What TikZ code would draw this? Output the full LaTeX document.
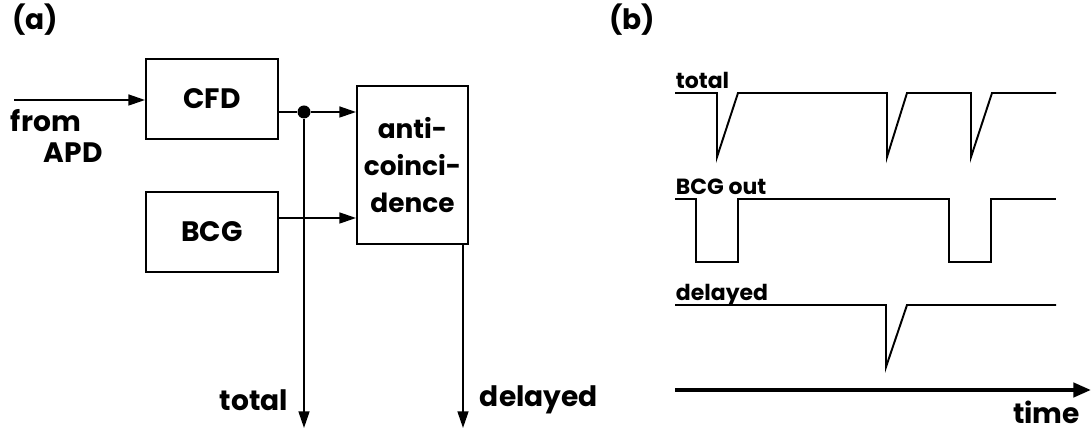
\documentclass[tikz,border=0pt]{standalone}
\usepackage{fontspec}
\setmainfont{Poppins}
\usetikzlibrary{arrows.meta}
\begin{document}
\begin{tikzpicture}[x=0.02cm,y=-0.02cm,
  line width=1.1pt,
  box/.style={draw,line width=1.1pt,inner sep=0pt,font=\fontsize{16}{22}\selectfont\bfseries},
  big/.style={font=\fontsize{16}{22}\selectfont\bfseries,inner sep=0pt},
  small/.style={font=\fontsize{12.5}{14}\selectfont\bfseries,inner sep=0pt},
  arr/.style={-{Triangle[length=9.5pt,width=6.2pt]}},
  wave/.style={line width=1.1pt,line join=miter}]
\useasboundingbox (0,0) rectangle (1091,431);
% (a)
\node[big] (la) at (35,20) {(a)};
\node[box,minimum width=2.64cm,minimum height=1.6cm] (cfd) at (212,99) {CFD};
\node[box,minimum width=2.64cm,minimum height=1.6cm] (bcg) at (212,232) {BCG};
\node[box,minimum width=2.22cm,minimum height=3.16cm,align=center,
      font=\fontsize{15}{21}\selectfont\bfseries] (anti) at (412.5,165) {anti-\\coinci-\\dence};
\coordinate (apd) at (14,100);
\node[big,anchor=west] (from) at (10,121) {from};
\node[big,anchor=west] (apdl) at (43,153) {APD};
\draw[arr] (apd) -- (apd -| cfd.west);
\node[circle,fill,inner sep=0pt,minimum size=0.26cm] (dot) at (304,112) {};
\draw (cfd.east |- dot) -- (dot);
\draw[arr] (dot) -- (anti.west |- dot);
\coordinate (bcgo) at (278,218);
\draw[arr] (bcgo) -- (anti.west |- bcgo);
\coordinate (tot) at (304,428);
\draw[arr] (dot) -- (tot);
\coordinate (del) at (463,428);
\draw[arr] (anti.south -| del) -- (del);
\node[big,anchor=east] (totl) at (289,400) {total};
\node[big,anchor=west] (dell) at (479,400) {delayed};
% (b)
\node[big] (lb) at (632,20) {(b)};
\node[small,anchor=base west] (wt) at (675,89) {total};
\draw[wave] (675,93) -- (717,93) -- (717,157) -- (738,93) -- (887,93) -- (887,157) -- (907,93) -- (971,93) -- (971,157) -- (992,93) -- (1056,93);
\node[small,anchor=base west] (wb) at (675,195) {BCG out};
\draw[wave] (675,199) -- (696,199) -- (696,262) -- (738,262) -- (738,199) -- (949,199) -- (949,262) -- (991,262) -- (991,199) -- (1056,199);
\node[small,anchor=base west] (wd) at (675,301) {delayed};
\draw[wave] (675,305) -- (886,305) -- (886,367) -- (907,305) -- (1056,305);
\coordinate (t0) at (675,390);
\coordinate (t1) at (1091,390);
\draw[line width=2.2pt,-{Triangle[length=10pt,width=8pt]}] (t0) -- (t1);
\node[big,anchor=east] (timel) at (1081,412) {time};
\end{tikzpicture}
\end{document}
